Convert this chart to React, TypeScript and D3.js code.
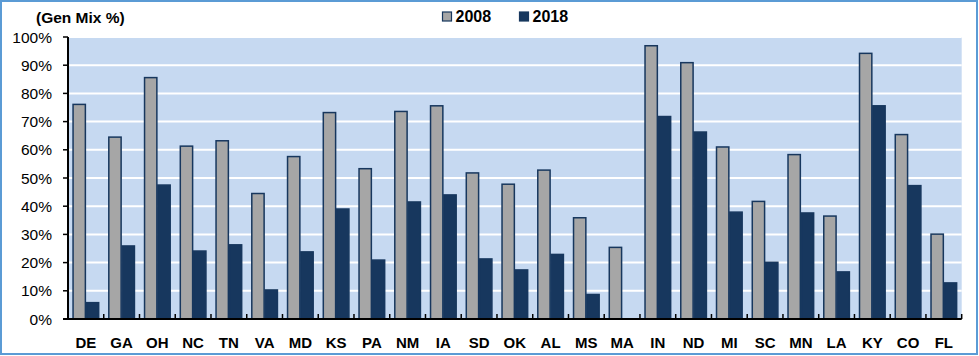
import React from "react";
import * as d3 from "d3";

const categories = ["DE","GA","OH","NC","TN","VA","MD","KS","PA","NM","IA","SD","OK","AL","MS","MA","IN","ND","MI","SC","MN","LA","KY","CO","FL"];
const values2008 = [76.1,64.5,85.6,61.3,63.2,44.5,57.6,73.2,53.3,73.6,75.6,51.8,47.8,52.8,35.9,25.4,96.9,90.9,61.0,41.7,58.3,36.5,94.2,65.4,30.1];
const values2018: (number | null)[] = [5.8,25.9,47.5,24.1,26.3,10.3,23.8,39.0,20.9,41.5,44.0,21.3,17.4,22.9,8.7,null,71.8,66.3,37.9,20.1,37.6,16.7,75.6,47.3,12.8];
const yTicks = [0,10,20,30,40,50,60,70,80,90,100];
const seriesNames = ["2008","2018"];

const W = 979, H = 356;
const plotL = 68, plotR = 961.7, plotT = 37, plotB = 319;
const NAVY = "#17375e";
const GRAY = "#a6a6a6";
const BG = "#c6d9f1";
const FONT = "'Liberation Sans', Arial, sans-serif";

export default function App() {
  const x = d3.scaleBand<string>().domain(categories).range([plotL, plotR]).paddingInner(0.255).paddingOuter(0.1275);
  const xStep = d3.scaleBand<string>().domain(categories).range([plotL, plotR]);
  const y = d3.scaleLinear().domain([0, 100]).range([plotB, plotT]);
  const sub = d3.scaleBand<string>().domain(seriesNames).range([0, x.bandwidth()]);
  const series = [values2008, values2018];
  const fills = [GRAY, NAVY];

  return (
    <svg width={W} height={H} style={{ position: "absolute", left: 0, top: 0 }} fontFamily={FONT}>
      <rect x={0} y={0} width={W} height={H} fill="#ffffff" />
      <rect x={plotL} y={plotT} width={plotR - plotL} height={plotB - plotT} fill={BG} />
      {yTicks.filter(t => t > 0).map(t => (
        <line key={"g" + t} x1={plotL} x2={plotR} y1={y(t)} y2={y(t)} stroke="#ffffff" strokeWidth={2} />
      ))}
      {series.map((vals, si) =>
        categories.map((c, i) => {
          const v = vals[i];
          if (v == null) return null;
          const bx = (x(c) as number) + (sub(seriesNames[si]) as number);
          return (
            <rect key={si + c} x={bx + 0.5} y={y(v)} width={sub.bandwidth() - 1} height={plotB - y(v)}
              fill={fills[si]} stroke={NAVY} strokeWidth={1.5} />
          );
        })
      )}
      {/* axes */}
      <line x1={plotL} x2={plotL} y1={plotT} y2={plotB} stroke="#000" strokeWidth={2} />
      <line x1={plotL - 5} x2={plotR} y1={plotB} y2={plotB} stroke="#000" strokeWidth={2} />
      {yTicks.map(t => (
        <g key={"yt" + t}>
          <line x1={plotL - 5} x2={plotL} y1={y(t)} y2={y(t)} stroke="#000" strokeWidth={1.5} />
          <text x={52} y={y(t) + 5.5} textAnchor="end" fontSize={15.5} fill="#000">{t + "%"}</text>
        </g>
      ))}
      {categories.map((c, i) => (
        <line key={"xt" + c} x1={(xStep(c) as number) + xStep.bandwidth()} x2={(xStep(c) as number) + xStep.bandwidth()}
          y1={plotB} y2={plotB - 5} stroke="#000" strokeWidth={1.5} />
      ))}
      {categories.map(c => (
        <text key={"xl" + c} x={(xStep(c) as number) + xStep.bandwidth() / 2} y={347.5} textAnchor="middle"
          fontSize={15} fontWeight="bold" fill="#000">{c}</text>
      ))}
      {/* title */}
      <text x={36} y={23} fontSize={15.5} fontWeight="bold" fill="#000">(Gen Mix %)</text>
      {/* legend */}
      {seriesNames.map((s, si) => (
        <g key={"lg" + s} transform={`translate(${[442, 519][si]},0)`}>
          <rect x={0.5} y={12} width={9} height={9} fill={fills[si]} stroke={NAVY} strokeWidth={1.2} />
          <text x={13.5} y={21.5} fontSize={16} fontWeight="bold" fill="#000">{s}</text>
        </g>
      ))}
      {/* outer border */}
      <rect x={1} y={1} width={976} height={353} fill="none" stroke="#5b9bd5" strokeWidth={2} />
    </svg>
  );
}
